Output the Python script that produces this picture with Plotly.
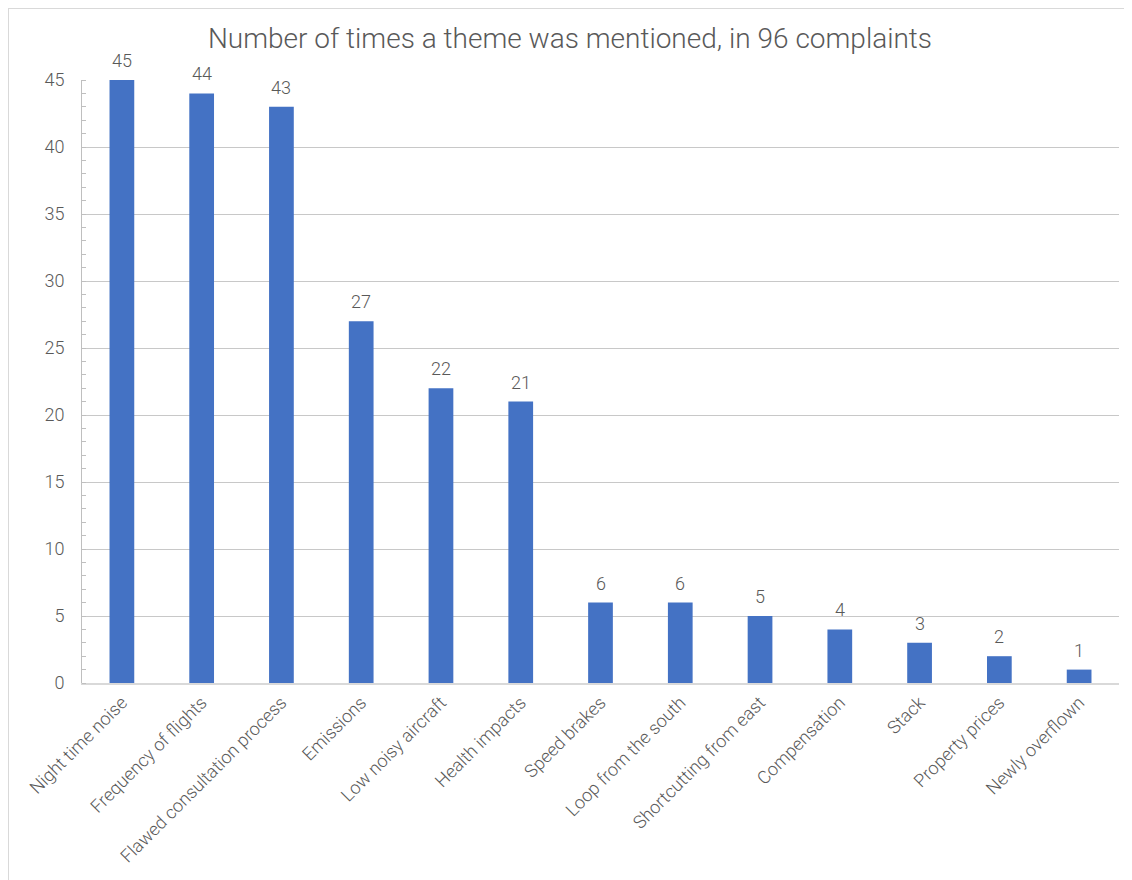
import plotly.graph_objects as go

categories = ["Night time noise", "Frequency of flights", "Flawed consultation process",
              "Emissions", "Low noisy aircraft", "Health impacts", "Speed brakes",
              "Loop from the south", "Shortcutting from east", "Compensation",
              "Stack", "Property prices", "Newly overflown"]
counts = [45, 44, 43, 27, 22, 21, 6, 6, 5, 4, 3, 2, 1]
y_ticks = [0, 5, 10, 15, 20, 25, 30, 35, 40, 45]

# page body has an 8px margin; compensate so the figure lands where the reference is
OFF = 8
W, H = 1132 - OFF, 880 - OFF
ml, mr, mt, mb = 82 - OFF, 13, 80 - OFF, 197
pw, ph = W - ml - mr, H - mt - mb

font = "Roboto, 'Open Sans', sans-serif"
txt = "#595959"

fig = go.Figure(go.Bar(
    x=categories, y=counts,
    marker=dict(color="#4472C4", line=dict(color="#4472C4", width=0)),
    cliponaxis=False,
))

annotations = [dict(x=c, y=v, xref="x", yref="y", text=str(v), showarrow=False,
                    yanchor="bottom", yshift=7,
                    font=dict(family=font, size=18, color=txt, weight=300))
               for c, v in zip(categories, counts)]

fig.update_layout(
    width=W, height=H,
    margin=dict(l=ml, r=mr, t=mt, b=mb, autoexpand=False),
    paper_bgcolor="white", plot_bgcolor="white",
    bargap=0.69,
    showlegend=False,
    annotations=annotations,
    title=dict(text="Number of times a theme was mentioned, in 96 complaints",
               x=0.5, xanchor="center",
               y=1 - (38 - OFF) / H, yanchor="middle",
               font=dict(family=font, size=28, color=txt, weight=300)),
    font=dict(family=font, color=txt),
    xaxis=dict(tickangle=-45, tickfont=dict(size=18, color=txt, weight=300),
               showline=True, linecolor="#D9D9D9", linewidth=2,
               ticks="", showgrid=False, fixedrange=True),
    yaxis=dict(range=[0, 45], tickvals=y_ticks,
               tickfont=dict(size=18, color=txt, weight=300),
               showline=True, linecolor="#BFBFBF", linewidth=1,
               showgrid=True, gridcolor="#C8C8C8", gridwidth=1,
               ticks="", zeroline=False,
               minor=dict(dtick=1, ticks="inside", ticklen=4, tickcolor="#BFBFBF",
                          showgrid=False),
               ticklabelstandoff=13),
    shapes=[dict(type="rect", xref="paper", yref="paper",
                 x0=(0 - ml) / pw, x1=(W + 5 - ml) / pw,
                 y0=-(H + 5 - mt - ph) / ph, y1=1 + (mt - 0) / ph,
                 line=dict(color="#D9D9D9", width=2), fillcolor="rgba(0,0,0,0)",
                 layer="below")],
)

fig.write_html("out.html")
